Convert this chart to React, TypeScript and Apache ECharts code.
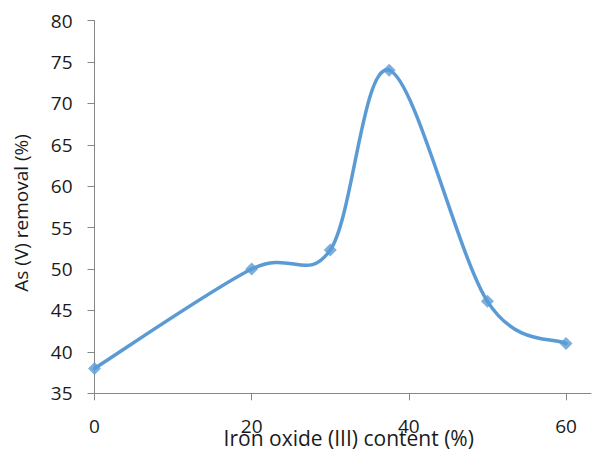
import React, { useEffect, useRef } from "react";
import * as echarts from "echarts";

const ironContent = [0, 20, 30, 37.5, 50, 60];
const asRemoval = [38, 50, 52.3, 74, 46.1, 41];
const xTicks = [0, 20, 40, 60];
const yTicks = [35, 40, 45, 50, 55, 60, 65, 70, 75, 80];

const FONT = "'Open Sans', 'Noto Sans', sans-serif";
const BLUE = "#5B9BD5";

export default function App() {
  const ref = useRef<HTMLDivElement>(null);
  useEffect(() => {
    if (!ref.current) return;
    const chart = echarts.init(ref.current, null, { renderer: "svg" });
    const left = 94.5;
    const pxPerX = (566 - left) / 60;
    const xMax = (591 - left) / pxPerX;
    const pts = ironContent.map((x, i) => [x, asRemoval[i]]);
    chart.setOption({
      animation: false,
      backgroundColor: "#ffffff",
      grid: {
        left: left,
        top: 20.5,
        width: xMax * pxPerX,
        height: 393.3 - 20.5,
        containLabel: false,
        outerBoundsMode: "none",
      },
      xAxis: {
        type: "value",
        min: 0,
        max: xMax,
        interval: 20,
        name: "Iron oxide (III) content (%)",
        nameLocation: "middle",
        nameGap: 34,
        nameMoveOverlap: false,
        nameTextStyle: {
          fontFamily: FONT,
          fontSize: 21,
          color: "#1a1a1a",
          padding: [0, 0, 0, 12],
        },
        axisLine: { show: true, lineStyle: { color: "#868686", width: 1 } },
        axisTick: { show: true, length: 7, customValues: xTicks, lineStyle: { color: "#868686" } },
        axisLabel: {
          fontFamily: FONT,
          fontSize: 19,
          color: "#1a1a1a",
          margin: 23,
          customValues: xTicks,
          formatter: (v: number) => String(v),
        },
        splitLine: { show: false },
      },
      yAxis: {
        type: "value",
        min: yTicks[0],
        max: yTicks[yTicks.length - 1],
        interval: 5,
        name: "As (V) removal (%)",
        nameLocation: "middle",
        nameGap: 64,
        nameMoveOverlap: false,
        nameTextStyle: {
          fontFamily: FONT,
          fontSize: 19,
          color: "#1a1a1a",
          padding: [0, 12, 0, 0],
        },
        axisLine: { show: true, lineStyle: { color: "#868686", width: 1 } },
        axisTick: { show: true, length: 7, lineStyle: { color: "#868686" } },
        axisLabel: { fontFamily: FONT, fontSize: 19, color: "#1a1a1a", margin: 22 },
        splitLine: { show: false },
      },
      series: [
        {
          type: "custom",
          data: pts.slice(0, -1),
          clip: false,
          z: 2,
          renderItem: (params: any, api: any) => {
            const i = params.dataIndex;
            const c = (k: number) => {
              const j = Math.max(0, Math.min(pts.length - 1, k));
              return api.coord(pts[j]);
            };
            const p0 = c(i - 1);
            const p1 = c(i);
            const p2 = c(i + 1);
            const p3 = c(i + 2);
            return {
              type: "bezierCurve",
              shape: {
                x1: p1[0],
                y1: p1[1],
                x2: p2[0],
                y2: p2[1],
                cpx1: p1[0] + (p2[0] - p0[0]) / 6,
                cpy1: p1[1] + (p2[1] - p0[1]) / 6,
                cpx2: p2[0] - (p3[0] - p1[0]) / 6,
                cpy2: p2[1] - (p3[1] - p1[1]) / 6,
              },
              style: { stroke: BLUE, lineWidth: 3.5, fill: "none", lineCap: "round" },
            };
          },
        },
        {
          type: "scatter",
          data: pts,
          symbol: "diamond",
          symbolSize: 13,
          itemStyle: { color: BLUE },
          z: 3,
        },
      ],
    });
    return () => chart.dispose();
  }, []);
  return (
    <div
      ref={ref}
      style={{ position: "fixed", left: 0, top: 0, width: 592, height: 451 }}
    />
  );
}
